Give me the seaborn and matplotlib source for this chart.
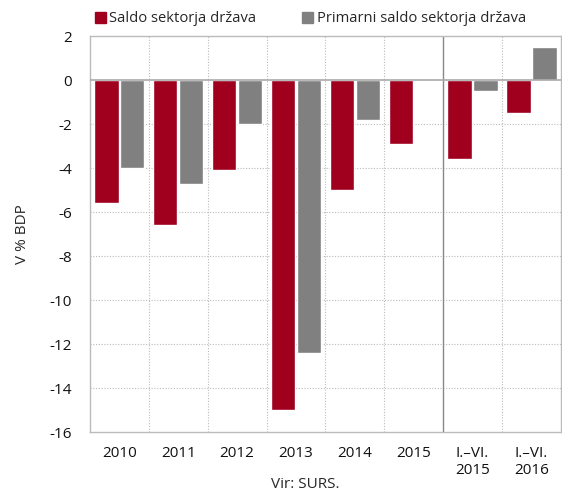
import matplotlib
matplotlib.use("Agg")
import matplotlib.pyplot as plt
import seaborn as sns
import pandas as pd

categories = ["2010", "2011", "2012", "2013", "2014", "2015",
              "I.\u2013VI.\n2015", "I.\u2013VI.\n2016"]
saldo = [-5.6, -6.6, -4.1, -15.0, -5.0, -2.9, -3.6, -1.5]
primarni = [-4.0, -4.7, -2.0, -12.4, -1.8, 0.05, -0.5, 1.5]
series = ["Saldo sektorja država", "Primarni saldo sektorja država"]
colors = ["#A0001E", "#808080"]

df = pd.DataFrame({
    "kategorija": categories * 2,
    "vrednost": saldo + primarni,
    "serija": [series[0]] * len(categories) + [series[1]] * len(categories),
})

sns.set_style("white")
plt.rcParams["font.family"] = ["Open Sans", "DejaVu Sans"]
plt.rcParams["axes.unicode_minus"] = False

fig = plt.figure(figsize=(5.62, 4.96), dpi=100)
ax = fig.add_axes([0.160, 0.129, 0.838, 0.798])

sns.barplot(data=df, x="kategorija", y="vrednost", hue="serija",
            palette=colors, order=categories, hue_order=series,
            width=0.88, gap=0.06, saturation=1, ax=ax, legend=False)

ax.set_ylim(-16, 2)
ax.set_yticks(range(-16, 3, 2))
ax.set_xlim(-0.5, len(categories) - 0.5)

# grid: dotted horizontal lines and category separators
for y in range(-14, 2, 2):
    if y != 0:
        ax.axhline(y, color="#BBBBBB", lw=0.8, ls=(0, (1, 1.5)), zorder=0)
for i in range(len(categories) - 1):
    if i == 5:
        ax.axvline(i + 0.5, color="#888888", lw=1.0, zorder=0)
    else:
        ax.axvline(i + 0.5, color="#BBBBBB", lw=0.8, ls=(0, (1, 1.5)), zorder=0)
ax.axhline(0, color="#AAAAAA", lw=1.2, zorder=3)

for s in ax.spines.values():
    s.set_color("#BBBBBB")
    s.set_linewidth(1.0)

ax.tick_params(axis="both", length=0, labelsize=11, colors="#111111")
ax.tick_params(axis="x", pad=10)
ax.tick_params(axis="y", pad=13)
ax.set_xlabel("")
ax.set_ylabel("V % BDP", fontsize=11, labelpad=14)

handles = [plt.Rectangle((0, 0), 1, 1, color=c) for c in colors]
fig.legend(handles, series, loc="center left", bbox_to_anchor=(0.158, 0.962),
           ncol=2, frameon=False, fontsize=10.6, handlelength=0.75,
           handleheight=0.75, handletextpad=0.25, columnspacing=3.1,
           borderaxespad=0)

fig.text(305 / 562, 1 - 485 / 496, "Vir: SURS.", ha="center", va="center",
         fontsize=11)

fig.savefig("out.png", dpi=100)
